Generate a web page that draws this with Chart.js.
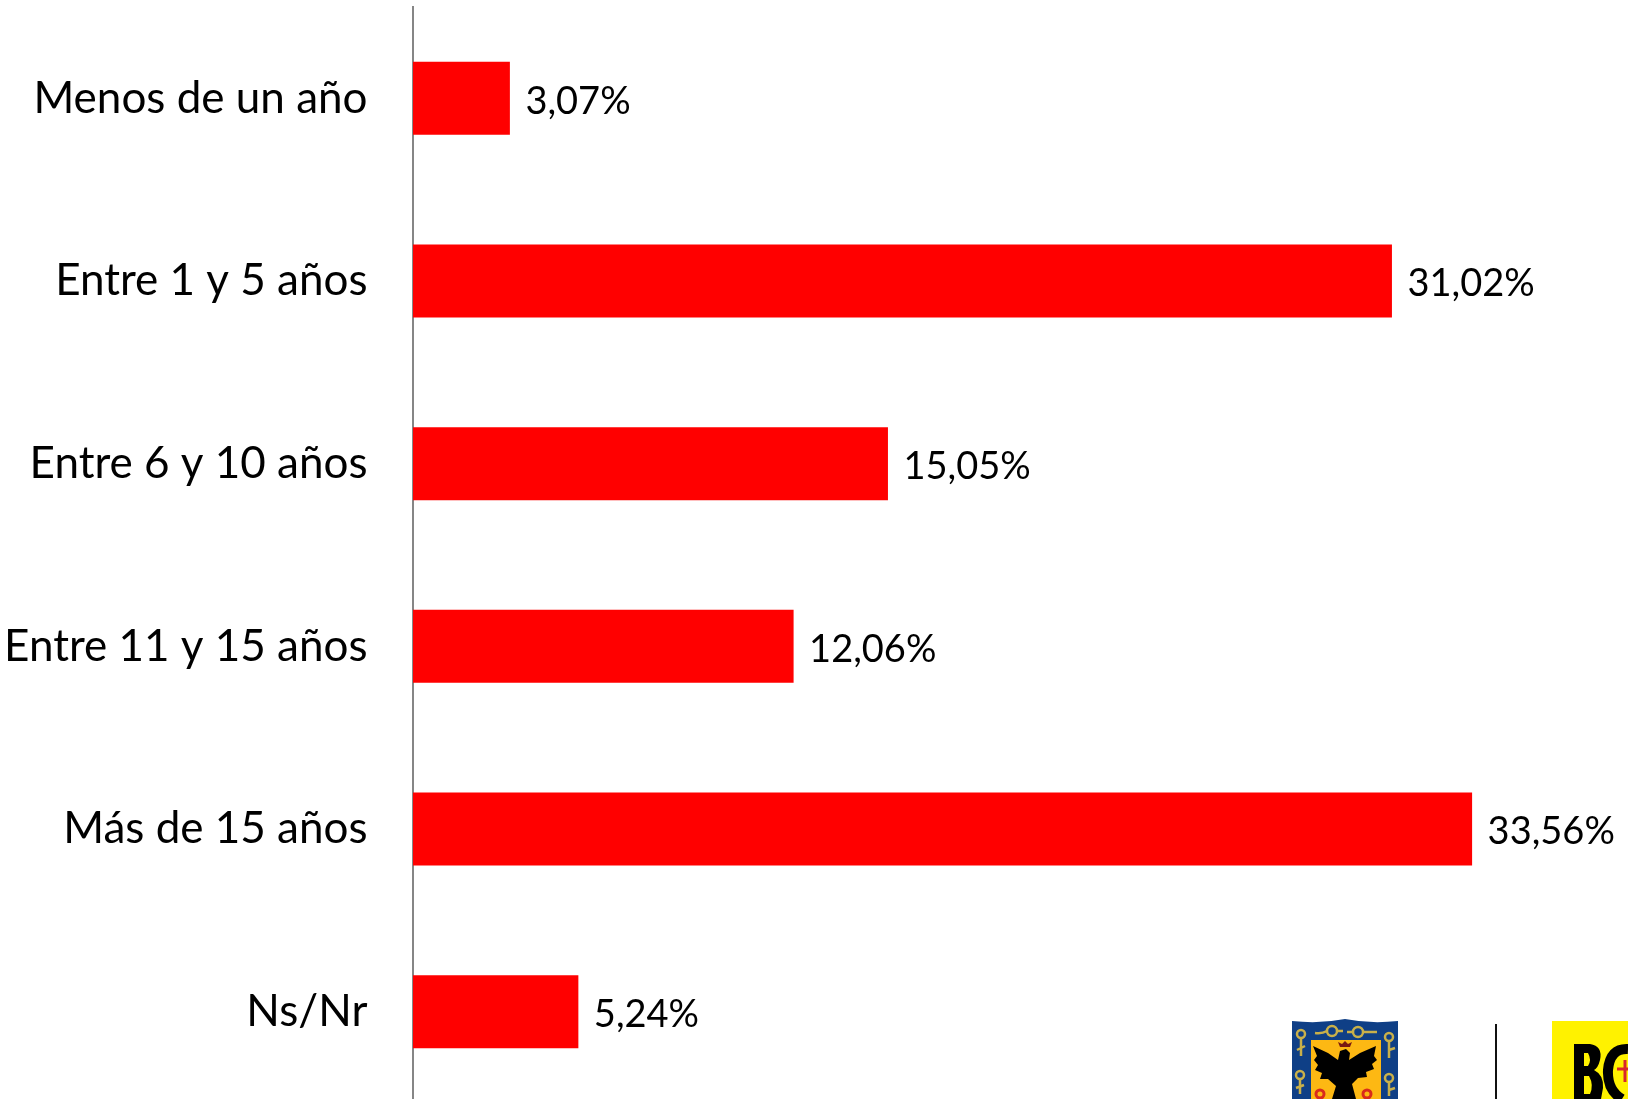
<!DOCTYPE html>
<html><head><meta charset="utf-8">
<script src="https://cdn.jsdelivr.net/npm/chart.js@4"></script>
<style>
html,body{margin:0;padding:0;background:#fff;width:1628px;height:1099px;overflow:hidden}
#wrap{position:absolute;left:0;top:0;width:1628px;height:1103px}
#logos{position:absolute;left:0;top:0}
</style></head><body>
<div id="wrap"><canvas id="c" width="1628" height="1103"></canvas></div>
<svg id="logos" width="1628" height="1099" xmlns="http://www.w3.org/2000/svg">
  <path d="M1292 1021 Q1320 1024 1345 1019 Q1370 1024 1398 1021 V1099 H1292Z" fill="#0f3f86"/>
  <rect x="1311" y="1040" width="70" height="59" fill="#fdb813"/>
  <path d="M1313 1046 L1328 1053 L1338 1060 L1340 1051 L1346 1049 L1350 1053 L1349 1060 L1360 1053 L1376 1046 L1374 1056 L1377 1060 L1372 1064 L1374 1069 L1366 1072 L1367 1077 L1358 1078 L1352 1084 L1356 1099 H1332 L1336 1086 L1328 1079 L1320 1079 L1322 1073 L1315 1070 L1318 1065 L1314 1060 L1317 1056Z" fill="#000"/>
  <path d="M1340 1047 L1338 1042 L1342 1044 L1345 1041 L1348 1044 L1352 1042 L1350 1047Z" fill="#7a1a12"/>
  <g fill="none" stroke="#d92b1c" stroke-width="3"><circle cx="1320" cy="1094" r="4"/><circle cx="1367" cy="1094" r="4"/></g>
  <g fill="none" stroke="#c9b04a" stroke-width="2.5">
    <circle cx="1301" cy="1034" r="4"/><path d="M1301 1038 V1056 M1297 1050 L1305 1046"/>
    <circle cx="1389" cy="1037" r="4"/><path d="M1389 1041 V1058 M1389 1050 L1395 1048"/>
    <circle cx="1300" cy="1075" r="4"/><path d="M1300 1079 V1094 M1296 1088 L1304 1085"/>
    <circle cx="1389" cy="1078" r="4"/><path d="M1389 1082 V1096 M1389 1090 L1395 1088"/>
    <circle cx="1332" cy="1031" r="5"/><circle cx="1358" cy="1032" r="5"/>
    <path d="M1315 1033 Q1322 1034 1327 1031 M1337 1031 H1343 M1347 1032 H1353 M1363 1032 H1377"/>
  </g>
  <rect x="1495" y="1024" width="2" height="75" fill="#111"/>
  <rect x="1552" y="1021" width="76" height="78" fill="#fff200"/>
  <path d="M1574 1044 H1590 Q1603 1046 1600 1060 Q1598 1068 1594 1070 Q1604 1075 1603 1088 L1601 1099 H1574Z M1584 1053 V1066 H1588 Q1592 1060 1588 1053Z M1584 1076 V1094 H1590 Q1594 1085 1589 1076Z" fill="#000" fill-rule="evenodd"/>
  <path d="M1628 1049 Q1610 1048 1608 1070 Q1607 1090 1622 1099" fill="none" stroke="#000" stroke-width="10"/>
  <path d="M1617 1069 H1628 M1625 1060 V1082" stroke="#d8262c" stroke-width="3"/>
</svg>
<script>
const categories = ["Menos de un año","Entre 1 y 5 años","Entre 6 y 10 años","Entre 11 y 15 años","Más de 15 años","Ns/Nr"];
const values = [3.07,31.02,15.05,12.06,33.56,5.24];
const valueLabels = ["3,07%","31,02%","15,05%","12,06%","33,56%","5,24%"];
const FONT = "Lato";
const labelPlugin = {
  id:"valueLabels",
  afterDatasetsDraw(chart){
    const {ctx} = chart;
    const meta = chart.getDatasetMeta(0);
    ctx.save();
    ctx.font = "38px "+FONT;
    ctx.fillStyle = "#000";
    ctx.textAlign = "left";
    ctx.textBaseline = "middle";
    meta.data.forEach((bar,i)=>ctx.fillText(valueLabels[i],bar.x+15.5,bar.y+3));
    ctx.restore();
  }
};
new Chart(document.getElementById("c"),{
  type:"bar",
  data:{labels:categories,datasets:[{data:values,backgroundColor:"#ff0000",borderWidth:0,barPercentage:0.4,categoryPercentage:1}]},
  options:{
    indexAxis:"y",responsive:false,animation:false,
    layout:{padding:{top:7,left:0,right:0,bottom:0}},
    plugins:{legend:{display:false},tooltip:{enabled:false}},
    scales:{
      x:{display:false,min:0,max:38.5},
      y:{
        grid:{display:false,drawTicks:false,tickLength:0},
        border:{display:true,color:"#868686",width:2},
        ticks:{color:"#000",font:{family:FONT,size:44},padding:45.5,autoSkip:false},
        afterFit(s){s.width=413;s.paddingTop=0;s.paddingBottom=0;}
      }
    }
  },
  plugins:[labelPlugin]
});
</script>
</body></html>
